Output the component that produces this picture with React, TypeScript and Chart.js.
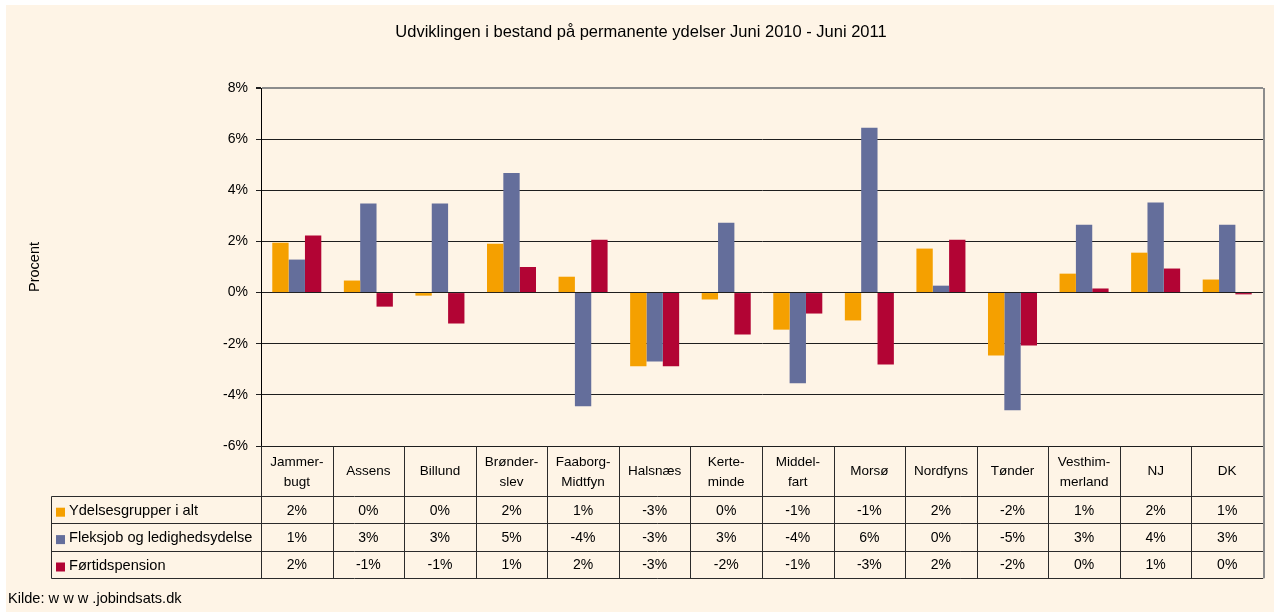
import React, { useEffect, useRef } from "react";
import { Chart, registerables } from "chart.js";

Chart.register(...registerables);

const chartTitle = "Udviklingen i bestand på permanente ydelser Juni 2010 - Juni 2011";
const yAxisTitle = "Procent";
const sourceNote = "Kilde: w w w .jobindsats.dk";

const categories: (string | string[])[] = [
  ["Jammer-", "bugt"],
  "Assens",
  "Billund",
  ["Brønder-", "slev"],
  ["Faaborg-", "Midtfyn"],
  "Halsnæs",
  ["Kerte-", "minde"],
  ["Middel-", "fart"],
  "Morsø",
  "Nordfyns",
  "Tønder",
  ["Vesthim-", "merland"],
  "NJ",
  "DK",
];

const seriesNames = ["Ydelsesgrupper i alt", "Fleksjob og ledighedsydelse", "Førtidspension"];

const ydelsesgrupper = [1.95, 0.47, -0.12, 1.91, 0.62, -2.88, -0.27, -1.45, -1.09, 1.72, -2.46, 0.74, 1.56, 0.51];
const fleksjob = [1.29, 3.48, 3.48, 4.68, -4.45, -2.7, 2.73, -3.55, 6.45, 0.27, -4.6, 2.65, 3.52, 2.65];
const fortidspension = [2.23, -0.55, -1.21, 1.0, 2.07, -2.88, -1.64, -0.82, -2.81, 2.07, -2.07, 0.16, 0.94, -0.07];

const yTicks = [-6, -4, -2, 0, 2, 4, 6, 8];

const seriesColors = ["#F5A000", "#646E9B", "#B20434"];

const FONT = '"Liberation Sans", Arial, Helvetica, sans-serif';
const BG = "#FEF4E6";
const W = 1268;
const H = 607;

const fmtPct = (v: number) => `${Math.round(v) || 0}%`;

const overlayPlugin = {
  id: "overlayTable",
  afterDraw(chart: any) {
    const ctx: CanvasRenderingContext2D = chart.ctx;
    const area = chart.chartArea;
    const xs = chart.scales.x;
    const n = categories.length;
    const colW = (area.right - area.left) / n;
    const series = [ydelsesgrupper, fleksjob, fortidspension];
    const snap = (v: number) => Math.round(v) + 0.5;

    ctx.save();
    // title
    ctx.fillStyle = "#000";
    ctx.font = `16.5px ${FONT}`;
    ctx.textAlign = "center";
    ctx.textBaseline = "middle";
    ctx.fillText(chartTitle, W / 2 + 1, 27);

    // y-axis title
    ctx.font = `14.5px ${FONT}`;
    ctx.save();
    ctx.translate(29, (area.top + area.bottom) / 2);
    ctx.rotate(-Math.PI / 2);
    ctx.fillText(yAxisTitle, 0, 0);
    ctx.restore();

    // table geometry
    const headTop = area.bottom;
    const headBottom = headTop + 50;
    const rowH = 27.4;
    const tableBottom = headBottom + rowH * 3;
    const legendLeft = 45;

    ctx.strokeStyle = "#2b2b2b";
    ctx.lineWidth = 1;
    ctx.beginPath();
    for (let i = 0; i <= n; i++) {
      const bx = snap(xs.getPixelForValue(0) - colW / 2 + i * colW);
      ctx.moveTo(bx, headTop);
      ctx.lineTo(bx, tableBottom);
    }
    ctx.moveTo(snap(legendLeft), snap(headBottom));
    ctx.lineTo(snap(legendLeft), snap(tableBottom));
    for (let r = 0; r <= 3; r++) {
      const y = snap(headBottom + r * rowH);
      ctx.moveTo(snap(legendLeft), y);
      ctx.lineTo(area.right, y);
    }
    ctx.stroke();

    // right plot border (grey)
    ctx.strokeStyle = "#8c8c8c";
    ctx.lineWidth = 2;
    ctx.beginPath();
    ctx.moveTo(area.right + 1, area.top);
    ctx.lineTo(area.right + 1, tableBottom);
    ctx.stroke();

    // header labels
    ctx.fillStyle = "#000";
    ctx.font = `13.5px ${FONT}`;
    ctx.textAlign = "center";
    ctx.textBaseline = "middle";
    categories.forEach((c, i) => {
      const cx = xs.getPixelForValue(i);
      const mid = (headTop + headBottom) / 2;
      if (Array.isArray(c)) {
        ctx.fillText(c[0], cx, mid - 9);
        ctx.fillText(c[1], cx, mid + 11);
      } else {
        ctx.fillText(c, cx, mid);
      }
    });

    // values and legend
    series.forEach((vals, r) => {
      const cy = headBottom + r * rowH + rowH / 2 + 1;
      ctx.font = `14px ${FONT}`;
      ctx.textAlign = "center";
      vals.forEach((v, i) => {
        ctx.fillText(fmtPct(v), xs.getPixelForValue(i), cy);
      });
      ctx.fillStyle = seriesColors[r];
      ctx.fillRect(legendLeft + 5, cy - 3, 9, 9);
      ctx.fillStyle = "#000";
      ctx.textAlign = "left";
      ctx.font = `14.6px ${FONT}`;
      ctx.fillText(seriesNames[r], legendLeft + 18, cy);
    });

    // source
    ctx.textAlign = "left";
    ctx.font = `14.6px ${FONT}`;
    ctx.fillText(sourceNote, 2, 594);
    ctx.restore();
  },
};

export default function App() {
  const canvasRef = useRef<HTMLCanvasElement | null>(null);

  useEffect(() => {
    const canvas = canvasRef.current;
    if (!canvas) return;
    const chart = new Chart(canvas, {
      type: "bar",
      data: {
        labels: categories.map((c) => (Array.isArray(c) ? c.join("") : c)),
        datasets: [
          { label: seriesNames[0], data: ydelsesgrupper, backgroundColor: seriesColors[0] },
          { label: seriesNames[1], data: fleksjob, backgroundColor: seriesColors[1] },
          { label: seriesNames[2], data: fortidspension, backgroundColor: seriesColors[2] },
        ].map((d) => ({ ...d, borderWidth: 0, barPercentage: 1, categoryPercentage: 0.685 })),
      },
      options: {
        responsive: false,
        animation: false,
        layout: { padding: { top: 83, bottom: 166, left: 0, right: 11 } },
        plugins: {
          legend: { display: false },
          title: { display: false },
          tooltip: { enabled: false },
        },
        scales: {
          x: { display: false, offset: true },
          y: {
            min: -6,
            max: 8,
            afterBuildTicks: (s: any) => {
              s.ticks = yTicks.map((v) => ({ value: v }));
            },
            afterFit: (s: any) => {
              s.width = 255;
            },
            ticks: {
              callback: (v: any) => `${v}%`,
              font: { family: FONT, size: 14 },
              color: "#000",
              padding: 8,
            },
            grid: {
              color: (c: any) => (c.tick && c.tick.value === 8 ? "#8c8c8c" : "#1e1e1e"),
              lineWidth: (c: any) => (c.tick && c.tick.value === 8 ? 2 : 1),
              tickColor: "#1e1e1e",
              tickLength: 5,
            },
            border: { color: "#000", width: 1 },
          },
        },
      },
      plugins: [overlayPlugin],
    } as any);
    return () => chart.destroy();
  }, []);

  return (
    <div style={{ position: "absolute", left: 6, top: 5, width: W, height: H, background: BG }}>
      <canvas ref={canvasRef} width={W} height={H} style={{ display: "block", width: W, height: H }} />
    </div>
  );
}
